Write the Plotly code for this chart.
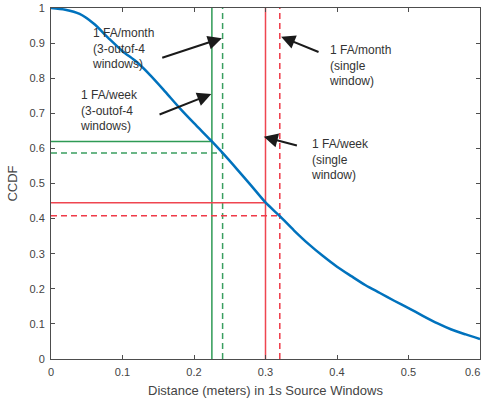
import plotly.graph_objects as go

# CCDF curve
dist = [0, 0.02, 0.04, 0.06, 0.08, 0.10, 0.12, 0.14, 0.16, 0.18, 0.20, 0.225, 0.24,
        0.26, 0.28, 0.30, 0.32, 0.34, 0.36, 0.38, 0.40, 0.42, 0.44, 0.46, 0.48,
        0.50, 0.52, 0.54, 0.56, 0.58, 0.60]
ccdf = [1.0, 0.995, 0.983, 0.955, 0.915, 0.877, 0.846, 0.806, 0.761, 0.715, 0.672, 0.62, 0.587,
        0.541, 0.494, 0.446, 0.407, 0.366, 0.328, 0.294, 0.263, 0.236, 0.21, 0.188, 0.166,
        0.145, 0.123, 0.102, 0.084, 0.07, 0.057]

# thresholds: (distance, ccdf)
thr_names = ["1 FA/week (3-outof-4)", "1 FA/month (3-outof-4)", "1 FA/week (single)", "1 FA/month (single)"]
thr_x = [0.225, 0.24, 0.30, 0.32]
thr_y = [0.62, 0.587, 0.445, 0.408]
thr_color = ["#2e9a55", "#3a9f60", "#ef4550", "#ef3a48"]
thr_dash = ["solid", "6px,4px", "solid", "6px,4px"]

# annotation labels
lab_text = ["1 FA/month<br>(3-outof-4<br>windows)", "1 FA/week<br>(3-outof-4<br>windows)",
            "1 FA/month<br>(single<br>window)", "1 FA/week<br>(single<br>window)"]
lab_x = [0.054, 0.038, 0.386, 0.361]
lab_y = [0.885, 0.709, 0.835, 0.568]
arrow_tail_x = [0.1535, 0.1497, 0.3763, 0.346]
arrow_tail_y = [0.857, 0.695, 0.873, 0.607]
arrow_head_x = [0.239, 0.2242, 0.3219, 0.2976]
arrow_head_y = [0.914, 0.755, 0.918, 0.633]

x_ticks = [0, 0.1, 0.2, 0.3, 0.4, 0.5, 0.6]
x_ticklabels = ["0", "0.1", "0.2", "0.3", "0.4", "0.5", "0.6"]

FONT = "Liberation Sans, Arial, Helvetica"

fig = go.Figure()
for i in range(4):
    fig.add_trace(go.Scatter(x=[thr_x[i], thr_x[i]], y=[0, 1], mode="lines",
                             line=dict(color=thr_color[i], width=1.5, dash=thr_dash[i]),
                             showlegend=False, hoverinfo="skip"))
    fig.add_trace(go.Scatter(x=[0, thr_x[i]], y=[thr_y[i], thr_y[i]], mode="lines",
                             line=dict(color=thr_color[i], width=1.5, dash=thr_dash[i]),
                             showlegend=False, hoverinfo="skip"))

fig.add_trace(go.Scatter(x=dist, y=ccdf, mode="lines",
                         line=dict(color="#0072BD", width=2.5, shape="spline", smoothing=0.8),
                         showlegend=False))

font_txt = dict(family=FONT, size=12, color="#333333")
for i in range(4):
    fig.add_annotation(x=lab_x[i], y=lab_y[i], xref="x", yref="y", text=lab_text[i],
                       showarrow=False, xanchor="left", yanchor="middle", align="left",
                       font=font_txt)
    fig.add_annotation(x=arrow_head_x[i], y=arrow_head_y[i], ax=arrow_tail_x[i], ay=arrow_tail_y[i],
                       xref="x", yref="y", axref="x", ayref="y", text="", showarrow=True,
                       arrowhead=2, arrowsize=1.4, arrowwidth=2, arrowcolor="#1a1a1a",
                       standoff=0, startstandoff=0)

# last x tick label, kept inside the page edge
fig.add_annotation(x=x_ticks[-1], y=0, xref="x", yref="y", yshift=-13, xshift=2,
                   text=x_ticklabels[-1], showarrow=False, xanchor="right", yanchor="middle",
                   font=dict(family=FONT, size=11, color="#444444"))

axis_common = dict(showline=True, linecolor="#4d4d4d", linewidth=1, mirror="ticks",
                   ticks="inside", ticklen=4, tickcolor="#4d4d4d", showgrid=False,
                   zeroline=False, tickfont=dict(family=FONT, size=11, color="#444444"))
fig.update_xaxes(range=[0, 0.6], tickvals=x_ticks, ticktext=x_ticklabels[:-1] + [""],
                 ticklabelstandoff=3,
                 title=dict(text="Distance (meters) in 1s Source Windows", standoff=8,
                            font=dict(family=FONT, size=13, color="#444444")),
                 **axis_common)
fig.update_yaxes(range=[0, 1], dtick=0.1, tick0=0, ticklabelstandoff=3,
                 title=dict(text="CCDF", standoff=8,
                            font=dict(family=FONT, size=13, color="#444444")),
                 **axis_common)
fig.update_layout(width=483, height=401, margin=dict(l=51, r=3, t=8, b=42),
                  plot_bgcolor="white", paper_bgcolor="white")
fig.write_html("out.html")
